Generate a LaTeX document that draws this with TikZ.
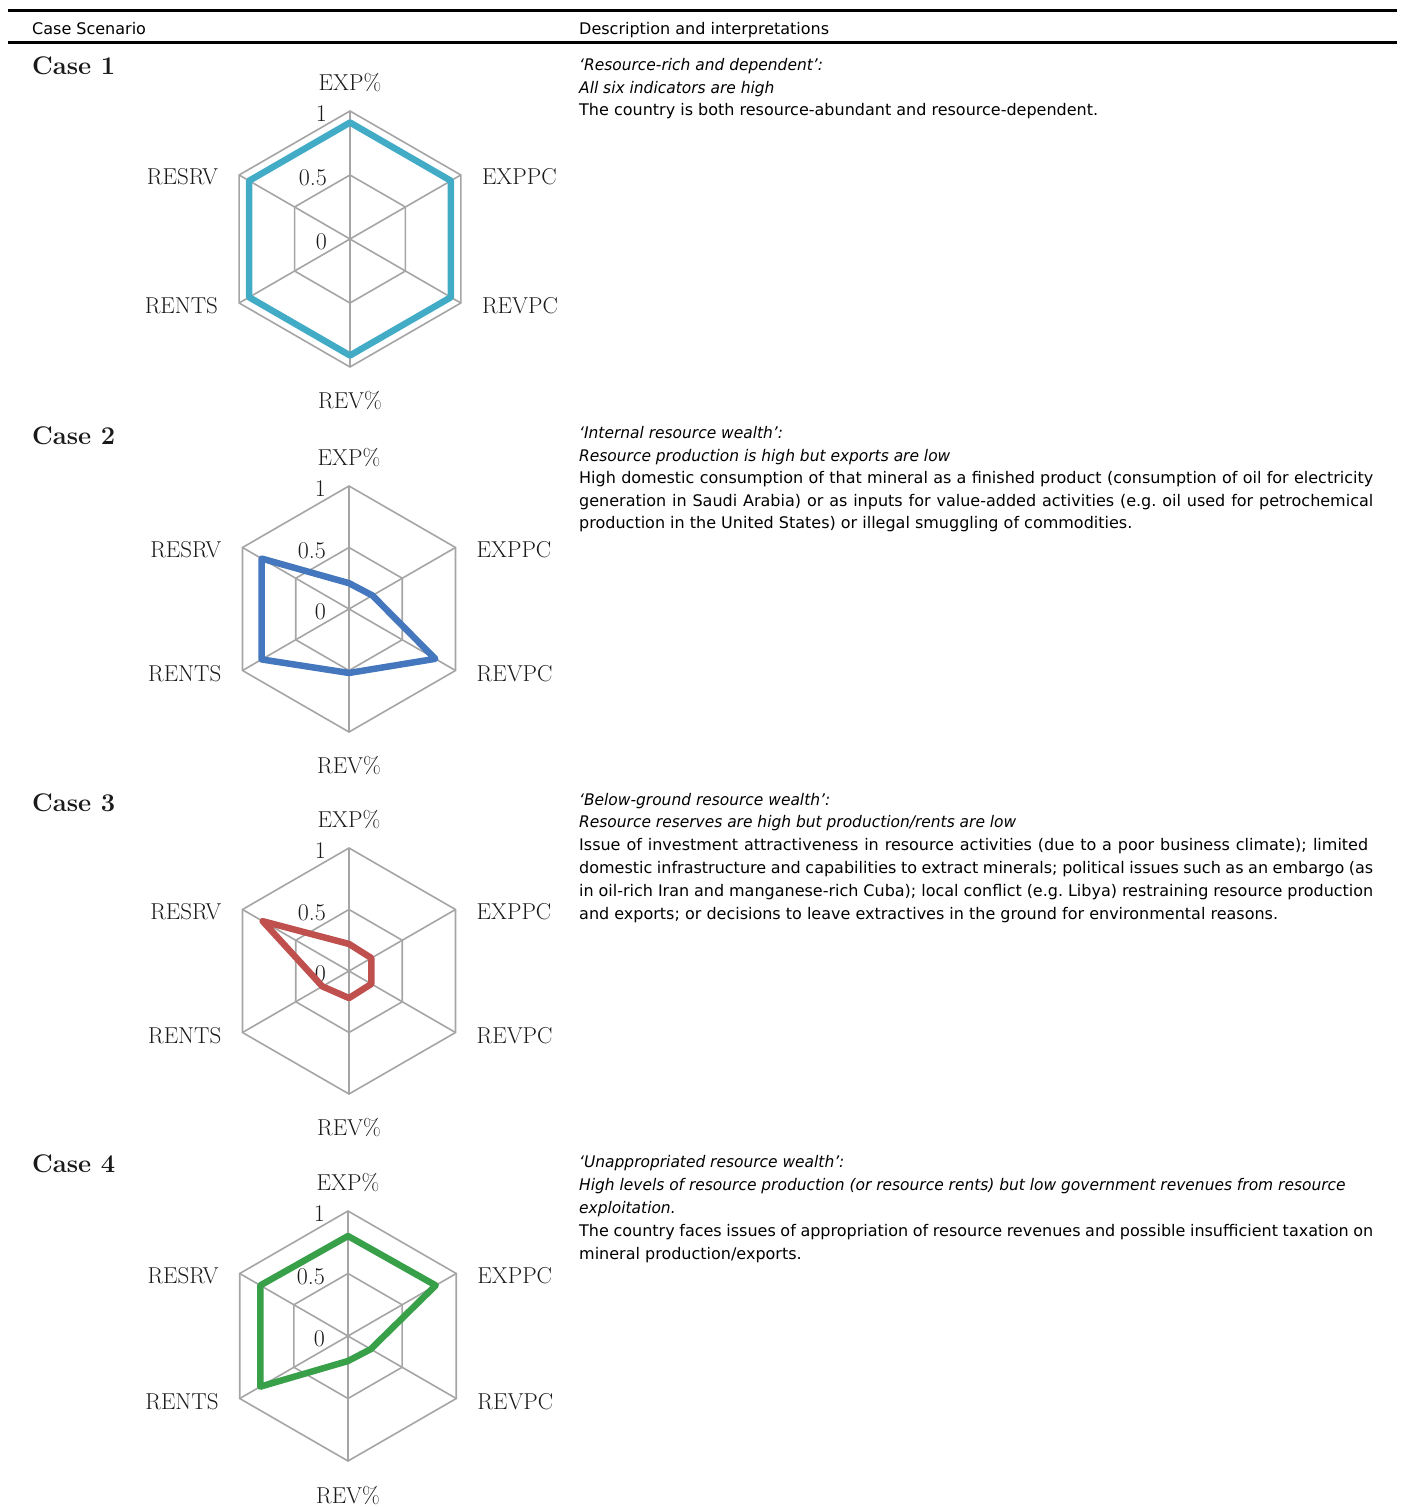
\documentclass[tikz,border=0pt]{standalone}
\usepackage{fontspec}
\newfontfamily\descfont[ItalicFeatures={FakeStretch=0.965}]{DejaVu Sans}
\definecolor{gridgray}{HTML}{A5A5A5}
\definecolor{labgray}{HTML}{1A1A1A}
\definecolor{cone}{HTML}{42ACC6}
\definecolor{ctwo}{HTML}{4477BD}
\definecolor{cthree}{HTML}{C0504D}
\definecolor{cfour}{HTML}{37A049}
\newlength\dw
\setlength\dw{794pt}
\tikzset{
  gridline/.style={draw=gridgray, line width=1.6pt},
  dataline/.style={line width=6.5pt, line join=round},
  axlab/.style={font=\fontsize{23}{27}\selectfont, text=labgray, inner sep=0pt},
  numlab/.style={font=\fontsize{24}{28}\selectfont, text=labgray, inner sep=0pt, anchor=east},
  desc/.style={inner sep=0pt, anchor=base west},
  casehead/.style={font=\bfseries\fontsize{25.5}{30}\selectfont, inner sep=0pt, anchor=base west, text=labgray},
  headtxt/.style={font=\descfont\fontsize{16}{20}\selectfont, inner sep=0pt, anchor=base west},
  rule/.style={draw=black, line width=2.6pt},
}
\newcommand\radargrid[2]{%
  \begin{scope}[yscale=-1]
    \draw[gridline] (90:#1) -- (30:#1) -- (-30:#1) -- (-90:#1) -- (-150:#1) -- (150:#1) -- cycle;
    \draw[gridline] (90:{#1/2}) -- (30:{#1/2}) -- (-30:{#1/2}) -- (-90:{#1/2}) -- (-150:{#1/2}) -- (150:{#1/2}) -- cycle;
    \foreach \a in {90,30,-30,-90,-150,150} \draw[gridline] (0,0) -- (\a:#1);
  \end{scope}
  \node[axlab] (#2exp) at (0,{-(#1+28)}) {EXP\%};
  \node[axlab] (#2rev) at (0,{#1+34}) {REV\%};
  \node[axlab, anchor=west] (#2exppc) at ({0.866*#1+21},{-#1/2+2}) {EXPPC};
  \node[axlab, anchor=west] (#2revpc) at ({0.866*#1+21},{#1/2+3}) {REVPC};
  \node[axlab, anchor=east] (#2resrv) at ({-0.866*#1-21},{-#1/2+2}) {RESRV};
  \node[axlab, anchor=east] (#2rents) at ({-0.866*#1-21},{#1/2+3}) {RENTS};
  \node[numlab] (#2one) at (-23,{-#1+3}) {1};
  \node[numlab] (#2half) at (-23,{-#1/2+3}) {0.5};
  \node[numlab] (#2zero) at (-23,3) {0};
}
% data polygon: #1 R, #2 colour, #3..#8 values EXP, EXPPC, REVPC, REV, RENTS, RESRV
\newcommand\radardata[8]{%
  \draw[dataline, draw=#2, yscale=-1] (90:{#3*#1}) -- (30:{#4*#1}) -- (-30:{#5*#1}) -- (-90:{#6*#1}) -- (-150:{#7*#1}) -- (150:{#8*#1}) -- cycle;
}
\begin{document}
\begin{tikzpicture}[x=1pt,y=-1pt]
\useasboundingbox (0,0) rectangle (1402,1507);
% header rules
\coordinate (rl1) at (8,10.7);
\coordinate (rr1) at (1396.5,10.7);
\coordinate (rl2) at (8,42.5);
\coordinate (rr2) at (1396.5,42.5);
\draw[rule] (rl1) -- (rr1);
\draw[rule] (rl2) -- (rr2);
\node[headtxt] (hcase) at (32,34) {Case Scenario};
\node[headtxt] (hdesc) at (579,34) {Description and interpretations};

% case headings
\node[casehead] (case1) at (32,74.7) {Case 1};
\node[casehead] (case2) at (32,444.5) {Case 2};
\node[casehead] (case3) at (32,811.5) {Case 3};
\node[casehead] (case4) at (32,1172.5) {Case 4};

% chart 1
\begin{scope}[shift={(350,239)}]
  \radargrid{128}{a}
  \radardata{128}{cone}{0.91}{0.91}{0.91}{0.91}{0.91}{0.91}
\end{scope}
% chart 2
\begin{scope}[shift={(349,609)}]
  \radargrid{123}{b}
  \radardata{123}{ctwo}{0.21}{0.22}{0.81}{0.52}{0.82}{0.82}
\end{scope}
% chart 3
\begin{scope}[shift={(349,971)}]
  \radargrid{123}{c}
  \radardata{123}{cthree}{0.22}{0.21}{0.21}{0.22}{0.25}{0.81}
\end{scope}
% chart 4
\begin{scope}[shift={(348,1336)}]
  \radargrid{125}{d}
  \radardata{125}{cfour}{0.80}{0.81}{0.21}{0.20}{0.81}{0.81}
\end{scope}

% descriptions
\node[desc] (d1) at (579,70.5) {\parbox[t]{820pt}{\descfont\fontsize{16}{22.6}\selectfont
{\itshape ‘Resource-rich and dependent’:}\\
{\itshape All six indicators are high}\\
The country is both resource-abundant and resource-dependent.}};

\node[desc] (d2) at (579,438.5) {\parbox[t]{820pt}{\descfont\fontsize{16}{22.6}\selectfont
{\itshape ‘Internal resource wealth’:}\\
{\itshape Resource production is high but exports are low}\\
\makebox[\dw][s]{High domestic consumption of that mineral as a finished product (consumption of oil for electricity}\\
\makebox[\dw][s]{generation in Saudi Arabia) or as inputs for value-added activities (e.g.\ oil used for petrochemical}\\
production in the United States) or illegal smuggling of commodities.}};

\node[desc] (d3) at (579,805) {\parbox[t]{820pt}{\descfont\fontsize{16}{22.8}\selectfont
{\itshape ‘Below-ground resource wealth’:}\\
{\itshape Resource reserves are high but production/rents are low}\\
\makebox[789pt][s]{Issue of investment attractiveness in resource activities (due to a poor business climate); limited}\\
\makebox[\dw][s]{domestic infrastructure and capabilities to extract minerals; political issues such as an embargo (as}\\
\makebox[\dw][s]{in oil-rich Iran and manganese-rich Cuba); local conflict (e.g.\ Libya) restraining resource production}\\
and exports; or decisions to leave extractives in the ground for environmental reasons.}};

\node[desc] (d4) at (579,1167) {\parbox[t]{820pt}{\descfont\fontsize{16}{23}\selectfont
{\itshape ‘Unappropriated resource wealth’:}\\
{\itshape High levels of resource production (or resource rents) but low government revenues from resource}\\
{\itshape exploitation.}\\
\makebox[\dw][s]{The country faces issues of appropriation of resource revenues and possible insufficient taxation on}\\
mineral production/exports.}};
\end{tikzpicture}
\end{document}
